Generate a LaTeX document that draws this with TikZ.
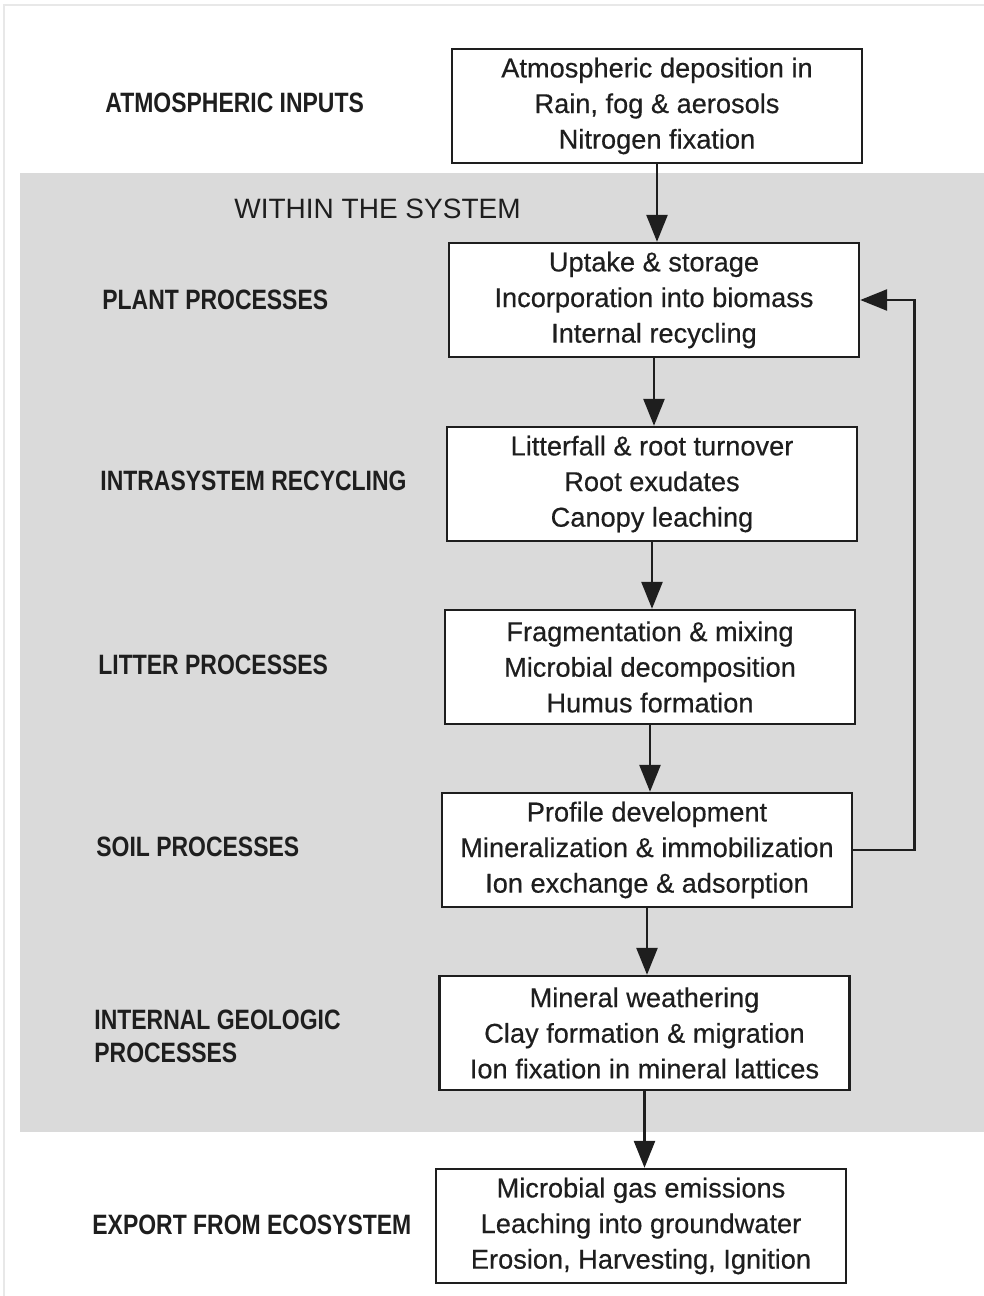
\documentclass[tikz,border=0pt]{standalone}
\usepackage{fontspec}
\setmainfont{Liberation Sans}
\newfontfamily\labfont[FakeStretch=0.82]{Liberation Sans}
\newfontfamily\boxfont[FakeBold=0.4]{Liberation Sans}
\usepackage{tikz}
\usetikzlibrary{arrows.meta,positioning,calc}
\definecolor{inkG}{RGB}{30,30,30}
\definecolor{paperG}{RGB}{218,218,218}
\definecolor{frameG}{RGB}{232,232,232}

\begin{document}
\begin{tikzpicture}[
  x=0.5pt,y=-0.5pt,
  >={Triangle[length=13.5pt,width=10.5pt]},
  box/.style={draw=inkG,line width=1.2pt,fill=white,minimum width=205pt,minimum height=57pt,inner sep=2pt,font=\boxfont\fontsize{13.6}{17.8}\selectfont,align=center,text=inkG},
  lab/.style={anchor=west,font=\labfont\bfseries\fontsize{14}{16.5}\selectfont,align=left,text=inkG,inner sep=0pt},
  flow/.style={->,draw=inkG,line width=1.3pt}
]
  \useasboundingbox (0,0) rectangle (984,1296);
  \draw[frameG,line width=0.8pt] (4,1296) |- (984,5);

  % Shaded band for the system
  \fill[paperG] (20,173) rectangle (984,1132);
  \node[anchor=west,font=\fontsize{14}{16}\selectfont,text=inkG,inner sep=0pt] (within) at (234,209) {WITHIN THE SYSTEM};

  % Process boxes
  \node[box] (atm) at (657,106) {Atmospheric deposition in\\Rain, fog \& aerosols\\Nitrogen fixation};
  \node[box] (plant) at (654,300) {Uptake \& storage\\Incorporation into biomass\\Internal recycling};
  \node[box] (recyc) at (652,484) {Litterfall \& root turnover\\Root exudates\\Canopy leaching};
  \node[box] (litter) at (650,667) {Fragmentation \& mixing\\Microbial decomposition\\Humus formation};
  \node[box] (soil) at (647,850) {Profile development\\Mineralization \& immobilization\\Ion exchange \& adsorption};
  \node[box] (geol) at (644.5,1033) {Mineral weathering\\Clay formation \& migration\\Ion fixation in mineral lattices};
  \node[box] (export) at (641,1226) {Microbial gas emissions\\Leaching into groundwater\\Erosion, Harvesting, Ignition};

  % Row labels
  \node[lab] (latm) at (105,103) {ATMOSPHERIC INPUTS};
  \node[lab] (lplant) at (102,300) {PLANT PROCESSES};
  \node[lab] (lrecyc) at (100,481) {INTRASYSTEM RECYCLING};
  \node[lab] (llitter) at (98,665) {LITTER PROCESSES};
  \node[lab] (lsoil) at (96,847) {SOIL PROCESSES};
  \node[lab] (lgeol) at (94,1036) {INTERNAL GEOLOGIC\\PROCESSES};
  \node[lab] (lexport) at (92,1225) {EXPORT FROM ECOSYSTEM};

  % Downward flow
  \foreach \a/\b in {atm/plant,plant/recyc,recyc/litter,litter/soil,soil/geol,geol/export} {
    \draw[flow] (\a.south) -- (\a.south |- \b.north);
  }

  % Return loop from soil to plant
  \draw[flow] (soil.east) -- ++(61,0) |- (plant.east);
\end{tikzpicture}
\end{document}
